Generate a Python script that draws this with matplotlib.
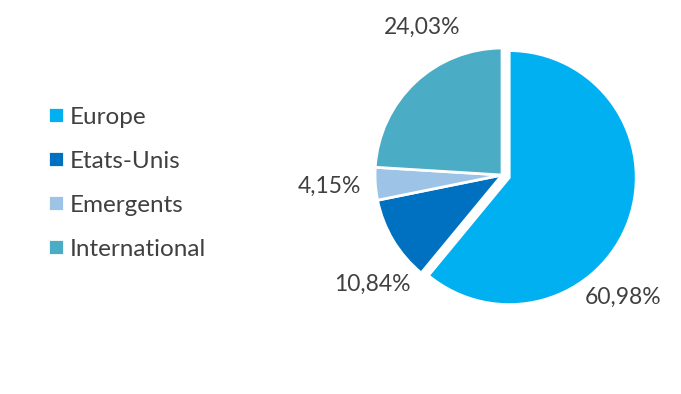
import matplotlib.pyplot as plt

# données
labels = ['Europe', 'Etats-Unis', 'Emergents', 'International']
values = [60.98, 10.84, 4.15, 24.03]
pct_text = ['60,98%', '10,84%', '4,15%', '24,03%']
colors = ['#00B0F0', '#0070C0', '#9DC3E6', '#4BACC6']

plt.rcParams['font.family'] = ['Lato', 'DejaVu Sans']

fig = plt.figure(figsize=(6.81, 3.94), dpi=100)
ax = fig.add_axes([0.5134, 0.169, 0.4476, 0.7736])

wedges, _ = ax.pie(values, colors=colors, startangle=90, counterclock=False,
                   explode=[0.06, 0, 0, 0],
                   wedgeprops=dict(edgecolor='white', linewidth=2))
ax.set_xlim(-1.2, 1.2)
ax.set_ylim(-1.2, 1.2)
ax.set_aspect('equal')

# position des etiquettes (coord. du camembert)
label_pos = [(0.95, -0.96), (-1.02, -0.86), (-1.36, -0.09), (-0.63, 1.16)]
for (x, y), t in zip(label_pos, pct_text):
    ax.text(x, y, t, ha='center', va='center', fontsize=16.5, color='#404040')

fig.legend(wedges, labels, loc='center left', bbox_to_anchor=(0.056, 0.535),
           frameon=False, fontsize=17.5, labelcolor='#404040',
           handlelength=0.65, handleheight=0.65, handletextpad=0.25,
           labelspacing=0.95, borderaxespad=0)

fig.savefig('out.png', dpi=100)
